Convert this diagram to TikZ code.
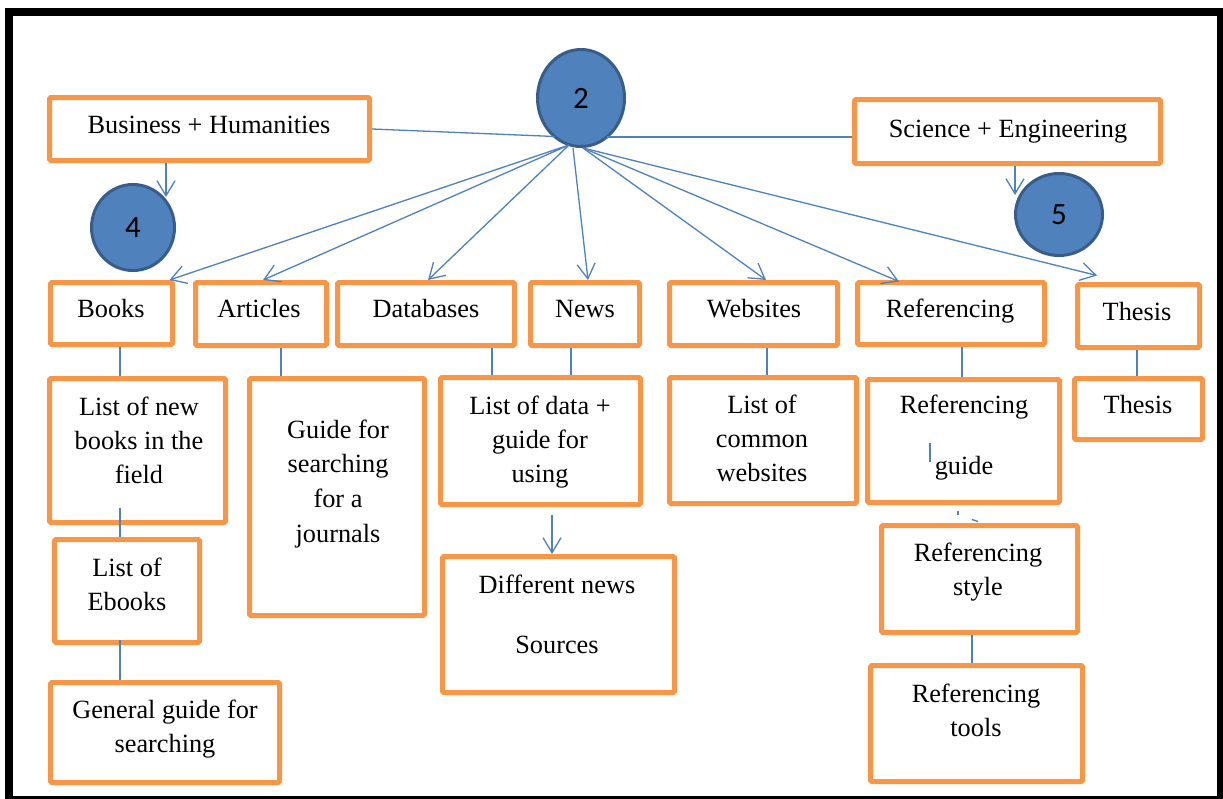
\documentclass[tikz,border=0pt]{standalone}
\usepackage{fontspec}
\setmainfont{Liberation Serif}
\newfontfamily\numfont{Carlito}
\usetikzlibrary{arrows.meta,shapes.geometric,calc}

\definecolor{boxorange}{HTML}{F79646}
\definecolor{linkblue}{HTML}{4F81BD}
\definecolor{discfill}{HTML}{4F81BD}
\definecolor{discedge}{HTML}{385D8A}

\tikzset{
  box/.style={rectangle, draw=boxorange, line width=5pt, fill=white,
    inner sep=0pt, rounded corners=1.5pt},
  disc/.style={ellipse, draw=discedge, line width=3pt, fill=discfill,
    inner sep=0pt, font=\numfont\fontsize{31}{31}\selectfont},
  % anchored at the baseline of the last line
  boxtext/.style={anchor=base, align=center, inner sep=0pt,
    font=\fontsize{26.3}{33.8}\selectfont},
  link/.style={draw=linkblue, line width=1.3pt},
  arr/.style={link, -{Straight Barb[length=15pt,width=18pt]}},
}

% box given by its outer edges: name, x1, y1, x2, y2
\newcommand\obox[5]{%
  \pgfmathsetmacro\obcx{(#2+#4)/2}%
  \pgfmathsetmacro\obcy{(#3+#5)/2}%
  \pgfmathsetmacro\obw{#4-#2-5}%
  \pgfmathsetmacro\obh{#5-#3-5}%
  \node[box, minimum width=\obw pt, minimum height=\obh pt] (#1) at (\obcx,\obcy) {};}

\begin{document}
\begin{tikzpicture}[x=1pt, y=-1pt]
\useasboundingbox (0,0) rectangle (1223,798);
\fill[white] (0,0) rectangle (1223,798);

% outer frame
\draw[line width=8pt] (9,12) rectangle (1221,800);

% boxes
\obox{bh}{47}{95}{372}{163}
\obox{se}{852}{97}{1163}{166}
\obox{books}{48}{280}{175}{347}
\obox{articles}{193}{280}{329}{348}
\obox{databases}{335}{280}{517}{348}
\obox{news}{528}{280}{642}{348}
\obox{websites}{667}{280}{840}{348}
\obox{refr}{855}{280}{1047}{347}
\obox{thesis}{1075}{282}{1202}{350}
\obox{lnb}{47}{376}{228}{525}
\obox{guide}{247}{376}{427}{618}
\obox{lod}{438}{375}{643}{507}
\obox{lcw}{667}{375}{859}{506}
\obox{rg}{865}{377}{1062}{505}
\obox{th2}{1072}{376}{1205}{442}
\obox{leb}{52}{537}{202}{645}
\obox{ggs}{48}{680}{282}{785}
\obox{dns}{440}{554}{677}{695}
\obox{rs}{879}{523}{1080}{635}
\obox{rt}{868}{663}{1085}{784}

% numbered discs
\node[disc, minimum width=87pt, minimum height=97pt] (c2) at (581,98) {2};
\node[disc, minimum width=83pt, minimum height=86pt] (c4) at (133,227.5) {4};
\node[disc, minimum width=87pt, minimum height=82pt] (c5) at (1059,214.5) {5};

% texts
\node[boxtext] (tbh) at (209,133) {Business + Humanities};
\node[boxtext] (tse) at (1008,137) {Science + Engineering};
\node[boxtext] (tbooks) at (111,317) {Books};
\node[boxtext] (tarticles) at (259,317) {Articles};
\node[boxtext] (tdb) at (426,317) {Databases};
\node[boxtext] (tnews) at (585,317) {News};
\node[boxtext] (tweb) at (754,317) {Websites};
\node[boxtext] (tref) at (950,317) {Referencing};
\node[boxtext] (tthesis) at (1137,320) {Thesis};
\node[boxtext] (tlnb) at (139,483) {List of new\\books in the\\field};
\node[boxtext] (tguide) at (338,542) {Guide for\\[0.8pt]searching\\[0.8pt]for a\\[0.8pt]journals};
\node[boxtext] (tlod) at (540,482) {List of data +\\guide for\\using};
\node[boxtext] (tlcw) at (762,481) {List of\\common\\websites};
\node[boxtext] (trg) at (964,474) {Referencing\\[27pt]guide};
\node[boxtext] (tth2) at (1138,413) {Thesis};
\node[boxtext] (tleb) at (127,610) {List of\\Ebooks};
\node[boxtext] (tggs) at (165,752) {General guide for\\searching};
\node[boxtext] (tdns) at (557,653) {Different news\\[26pt]Sources};
\node[boxtext] (trs) at (978,595) {Referencing\\style};
\node[boxtext] (trt) at (976,736) {Referencing\\tools};

% connection points on the central disc
\coordinate (hubL) at ($(c2.south)+(-12,-3)$);
\coordinate (hubM) at ($(c2.south)+(-8,0)$);
\coordinate (hubR) at ($(c2.south)+(2,0)$);
\coordinate (c2left) at ($(c2.center)+(-26,38.5)$);
\coordinate (c2right) at ($(c2.center)+(26,39)$);
\coordinate (c4top) at ($(c4.center)+(33,-30.5)$);
\coordinate (c5top) at ($(c5.center)+(-44,-19.5)$);

% links from the central disc
\draw[link] (bh.east) -- (c2left);
\draw[link] (c2right) -- ([yshift=-5.5pt]se.west);
\draw[arr] (hubL) -- ([xshift=-5.5pt]books.north east);
\draw[arr] (hubL) -- ([xshift=2pt]articles.north);
\draw[arr] (hubL) -- ([xshift=2pt]databases.north);
\draw[arr] (hubM) -- ([xshift=3pt]news.north);
\draw[arr] (hubR) -- ([xshift=12.5pt]websites.north);
\draw[arr] (hubR) -- ([xshift=-52pt,yshift=-1.5pt]refr.north);
\draw[arr] (hubR) -- ([xshift=-41.5pt,yshift=6.5pt]thesis.north);

% faculty boxes to their discs
\draw[arr] ([xshift=-43.5pt]bh.south) -- (c4top);
\draw[arr] ([xshift=7.5pt]se.south) -- (c5top);

% vertical links
\draw[link] ([xshift=8.5pt]books.south) -- ([xshift=-17.5pt]lnb.north);
\draw[link] ([xshift=20pt]articles.south) -- ([xshift=-56pt]guide.north);
\draw[link] ([xshift=66pt]databases.south) -- ([xshift=-48.5pt]lod.north);
\draw[link] ([xshift=-14pt]news.south) -- ([xshift=30.5pt]lod.north);
\draw[link] ([xshift=13.5pt]websites.south) -- ([xshift=4pt]lcw.north);
\draw[link] ([xshift=11pt]refr.south) -- ([xshift=-1.5pt]rg.north);
\draw[link] ([xshift=-1.5pt]thesis.south) -- ([xshift=-1.5pt]th2.north);
\draw[link] ([xshift=-17.5pt,yshift=17.5pt]lnb.south) -- ([xshift=-7pt]leb.north);
\draw[link] ([xshift=-7pt,yshift=5.5pt]leb.south) -- ([xshift=-45pt]ggs.north);
\draw[arr] ([xshift=11.5pt,yshift=-7.5pt]lod.south) -- ([xshift=-6.5pt]dns.north);
\draw[link] ([xshift=-7.5pt]rs.south) -- ([xshift=-4.5pt]rt.north);

% short strokes around the referencing guide
\draw[link] ($(rg.center)+(-33.5,2)$) -- ($(rg.center)+(-33.5,21)$);
\draw[link] ([xshift=-5.5pt,yshift=-5.5pt]rg.south) -- ([xshift=-5.5pt,yshift=-9.5pt]rg.south);
\draw[link] ([xshift=-7.5pt,yshift=3.5pt]rs.north) -- ([xshift=-1.5pt,yshift=1.5pt]rs.north);
\end{tikzpicture}
\end{document}
